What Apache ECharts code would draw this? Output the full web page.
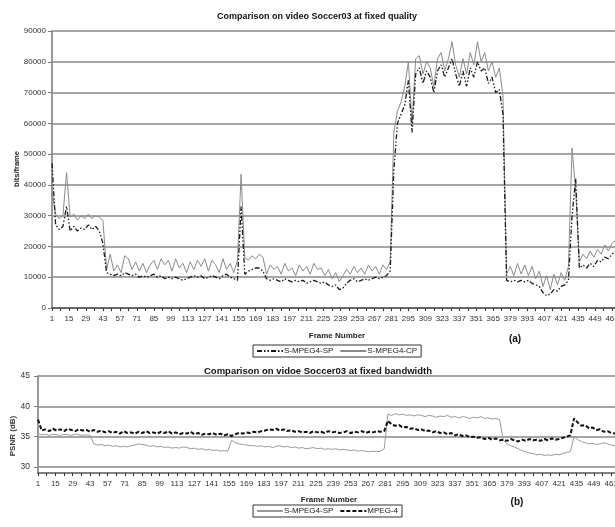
<!DOCTYPE html>
<html>
<head>
<meta charset="utf-8">
<title>Soccer03 comparison</title>
<script src="https://cdn.jsdelivr.net/npm/echarts@6/dist/echarts.min.js"></script>
<style>
  html, body { margin: 0; padding: 0; background: #fff; }
  #chart { width: 615px; height: 527px; }
</style>
</head>
<body>
<div id="chart"></div>
<script>
// values, one sample every 3rd frame (1, 4, 7 ... 466)
const frames = [];
for (let f = 1; f <= 466; f += 3) frames.push(f);

// (a) bits per frame, fixed quality
const bitsSP = [
  47000, 27000, 25500, 26500, 33000, 25000, 26500, 25000, 26000, 25500, 27000, 25500, 26500, 25000, 21000,
  11500, 11000, 10500, 11000, 10500, 11500, 11000, 10500, 11000, 10000, 10500, 10000, 10500, 11000, 10000, 10500, 9500, 10000, 9500, 10000,
  9500, 9000, 9500, 10000, 10500, 10000, 10500, 9500, 10000, 10500, 10000, 9500, 10500, 11000, 10000, 9500, 9000, 33000,
  11000, 12000, 12500, 13000, 13000, 12000,
  9500, 9000, 9500, 9000, 8500, 9500, 9000, 8500, 9000, 8500, 9000, 8000, 8500, 9000, 8500, 8000, 8500, 7500, 7000, 7500,
  6000, 6500, 8000, 9000, 9500, 8500, 9000, 9500, 9000, 9500, 10000, 9500, 10000, 10500, 12000,
  45000, 60000, 63000, 66000, 74000, 57000, 76000, 78000, 73000, 77000, 75000, 70000, 77000, 79000, 75000, 78000,
  81000, 76000, 72000, 77000, 72000, 78000, 75000, 80000, 77000, 78000, 73000, 75000, 70000, 71000, 63000,
  9000, 8500, 9000, 8500, 9000, 8500, 9000, 8000, 7500, 7000, 5000, 4000, 4500, 6000, 5500, 7000, 7500, 9000,
  30000, 42000, 13000,
  14000, 13000, 14500, 13500, 15500, 15000, 16500, 16000, 17500, 18500
];
const bitsCP = [
  38000, 30500, 29000, 30000, 44000, 29500, 30500, 28500, 30000, 29000, 30500, 29000, 30000, 29500, 28500,
  12500, 17500, 12000, 14000, 11500, 17000, 16000, 12500, 15000, 12000, 14500, 11500, 14000, 15500, 12500, 16000, 14000, 15500, 12000, 16000,
  13000, 14500, 11500, 15000, 12500, 15500, 13500, 16000, 12000, 15500, 14000, 11500, 16000, 12500, 14500, 11500, 15500, 43500,
  16500, 15500, 17000, 16000, 17500, 16500,
  11000, 14000, 12500, 13500, 11000, 14500, 12000, 13000, 10500, 14000, 12000, 13500, 11000, 14500, 12500, 13000, 10500, 12500, 9500, 11500,
  8500, 10500, 12500, 11000, 13500, 11500, 13000, 11000, 14000, 12000, 13500, 11000, 14000, 12500, 15000,
  57000, 64000, 67000, 72000, 80000, 60000, 81000, 82000, 76000, 80000, 78000, 72000, 81000, 83000, 77000, 81000,
  86500, 79000, 75000, 81000, 76000, 83000, 79000, 86500, 80000, 83000, 77000, 80000, 75000, 78000, 69000,
  11000, 13500, 10500, 14500, 11000, 14000, 10500, 13500, 9500, 12000, 7000, 10500, 6000, 11000, 7500, 11500, 9000, 13500,
  52000, 38000, 15000,
  17500, 16000, 18500, 16500, 19000, 17500, 20500, 18500, 21000, 22000
];
const bitsTicks = [0, 10000, 20000, 30000, 40000, 50000, 60000, 70000, 80000, 90000];

// (b) PSNR, fixed bandwidth
const psnrSP = [
  35.5, 35.3, 35.4, 35.2, 35.4, 35.3, 35.2, 35.4, 35.3, 35.2, 35.4, 35.3, 35.2, 35.3, 35.2,
  33.8, 33.6, 33.7, 33.5, 33.6, 33.4, 33.5, 33.3, 33.4, 33.3, 33.5, 33.6, 33.8, 33.7, 33.6, 33.4, 33.5, 33.3, 33.4, 33.2,
  33.3, 33.1, 33.2, 33.1, 33.3, 33.2, 33.0, 33.1, 32.9, 33.0, 32.8, 32.9, 32.7, 32.8, 32.6, 32.7, 32.6, 34.4,
  34.0, 33.8, 33.7, 33.6, 33.5, 33.5,
  33.4, 33.5, 33.3, 33.4, 33.2, 33.4, 33.5, 33.3, 33.4, 33.2, 33.3, 33.1, 33.2, 33.0, 33.1, 33.2, 33.0, 33.1, 32.9, 33.0,
  32.9, 33.0, 32.8, 32.9, 32.8, 32.7, 32.8, 32.6, 32.7, 32.6, 32.5, 32.6, 32.5, 32.6, 33.0,
  38.7, 38.5, 38.8, 38.6, 38.7, 38.5, 38.6, 38.4, 38.6, 38.5, 38.3, 38.5, 38.4, 38.2, 38.4, 38.3,
  38.5, 38.2, 38.3, 38.1, 38.3, 38.2, 38.0, 38.2, 38.1, 38.3, 38.0, 38.1, 37.9, 38.0, 37.8,
  34.4, 33.8, 33.5, 33.3, 33.0, 32.7, 32.5, 32.3, 32.2, 32.0, 32.1, 31.9, 32.0, 31.9, 32.1, 32.0, 32.2, 32.4,
  32.5, 35.0, 34.5,
  34.2, 34.0, 33.8, 33.9, 33.7, 33.8, 34.0, 33.8, 33.6, 33.5
];
const psnrMPEG4 = [
  37.8, 36.0, 36.2, 35.9, 36.3, 36.0, 36.2, 35.9, 36.3, 36.1, 35.9, 36.2, 36.0, 36.1, 35.8,
  36.1, 35.8, 36.0, 35.7, 35.9, 35.6, 35.8, 35.5, 35.9, 35.6, 35.7, 35.5, 35.8, 35.6, 35.9, 35.6, 35.7, 35.5, 35.8, 35.6,
  35.9, 35.5, 35.7, 35.4, 35.6, 35.5, 35.8, 35.4, 35.6, 35.3, 35.5, 35.4, 35.6, 35.3, 35.5, 35.2, 35.4, 35.1,
  35.4, 35.6, 35.5, 35.7, 35.6, 35.8,
  35.7, 35.9, 36.0, 36.2, 36.1, 36.3, 36.0, 36.2, 35.9, 36.1, 35.8, 35.9, 35.7, 35.8, 35.6, 35.9, 35.7, 35.8, 35.6, 35.9,
  35.7, 35.8, 35.6, 35.7, 35.9, 35.6, 35.8, 35.7, 35.9, 35.6, 35.8, 35.7, 35.9, 35.8, 35.9,
  37.6, 37.0, 36.8, 36.9, 36.5, 36.6, 36.3, 36.4, 36.1, 36.2, 35.9, 36.0, 35.7, 35.9, 35.6, 35.7,
  35.4, 35.6, 35.2, 35.4, 35.1, 35.2, 34.9, 35.0, 34.8, 34.9, 34.6, 34.8, 34.5, 34.7, 34.4,
  34.5, 34.3, 34.6, 34.4, 34.2, 34.5, 34.3, 34.6, 34.4, 34.5, 34.3, 34.6, 34.4, 34.7, 34.5, 34.6, 34.8, 35.0,
  35.2, 38.0, 37.3,
  36.8, 36.9, 36.4, 36.5, 36.1, 36.2, 35.8, 35.9, 35.6, 35.5
];
const psnrTicks = [30, 35, 40, 45];

// x is stored as frame-1 so ticks every 14 start at 0 and read 1, 15, 29 ...
const toPairs = (vals) => vals.map((v, i) => [frames[i] - 1, v]);

const chart = echarts.init(document.getElementById("chart"));

const labelFont = { color: "#333", fontSize: 8, fontFamily: "Liberation Sans" };
const gridLine = { show: true, lineStyle: { color: "#a6a6a6", width: 2 } };

const xAxisBase = {
  type: "value",
  min: 0,
  max: 490,
  interval: 14,
  axisLine: { onZero: false, lineStyle: { color: "#555", width: 1.5 } },
  axisTick: { show: true, length: 3, lineStyle: { color: "#333" } },
  minorTick: { show: true, splitNumber: 2, length: 3, lineStyle: { color: "#333" } },
  axisLabel: {
    ...labelFont,
    margin: 7,
    formatter: (v) => String(v + 1),
  },
  splitLine: { show: false },
};

const legendBase = {
  itemWidth: 26,
  itemHeight: 8,
  itemGap: 6,
  padding: [2, 4, 2, 3],
  borderColor: "#333",
  borderWidth: 1,
  borderRadius: 0,
  itemStyle: { opacity: 0 },
  textStyle: { ...labelFont, color: "#222", padding: [0, 0, 0, -4] },
};

const option = {
  backgroundColor: "#fff",
  animation: false,
  title: [
    {
      text: "Comparison on video Soccer03 at fixed quality",
      left: 312,
      top: 7,
      textAlign: "center",
      textStyle: { fontSize: 9, fontWeight: "bold", color: "#111", fontFamily: "Liberation Sans" },
    },
    {
      text: "Comparison on vidoe Soccer03 at fixed bandwidth",
      left: 313,
      top: 361,
      textAlign: "center",
      textStyle: { fontSize: 9.5, fontWeight: "bold", color: "#111", fontFamily: "Liberation Sans" },
    },
  ],
  legend: [
    { ...legendBase, data: ["S-MPEG4-SP", "S-MPEG4-CP"], left: 253, top: 345 },
    {
      ...legendBase,
      data: ["S-MPEG4-SP (b)", "MPEG-4"],
      formatter: (name) => name.replace(" (b)", ""),
      left: 253,
      top: 505,
    },
  ],
  grid: [
    { left: 52, top: 31, width: 594, height: 277, containLabel: false, outerBoundsMode: "none" },
    { left: 38, top: 376, width: 608, height: 97, containLabel: false, outerBoundsMode: "none" },
  ],
  xAxis: [
    { ...xAxisBase, gridIndex: 0 },
    { ...xAxisBase, gridIndex: 1 },
  ],
  yAxis: [
    {
      type: "value",
      gridIndex: 0,
      min: bitsTicks[0],
      max: bitsTicks[bitsTicks.length - 1],
      interval: 10000,
      axisLine: { show: true, lineStyle: { color: "#999", width: 2 } },
      axisTick: { show: true, length: 4, lineStyle: { color: "#777" } },
      axisLabel: { ...labelFont, margin: 6, formatter: (v) => String(v) },
      splitLine: gridLine,
    },
    {
      type: "value",
      gridIndex: 1,
      min: 29,
      max: 45,
      axisLine: { show: true, lineStyle: { color: "#999", width: 2 } },
      axisTick: { show: true, length: 4, customValues: psnrTicks, lineStyle: { color: "#777" } },
      axisLabel: { ...labelFont, fontSize: 8.5, margin: 8, customValues: psnrTicks },
      splitLine: gridLine,
    },
  ],
  graphic: [
    { type: "text", x: 17, y: 169, rotation: Math.PI / 2,
      style: { text: "bits/frame", font: "bold 7.5px Liberation Sans", fill: "#222", textAlign: "center", textVerticalAlign: "middle" } },
    { type: "text", x: 13, y: 436, rotation: Math.PI / 2,
      style: { text: "PSNR (dB)", font: "bold 8px Liberation Sans", fill: "#333", textAlign: "center", textVerticalAlign: "middle" } },
    { type: "text", x: 337, y: 336,
      style: { text: "Frame Number", font: "bold 8px Liberation Sans Narrow, Liberation Sans", fill: "#222", textAlign: "center", textVerticalAlign: "middle" } },
    { type: "text", x: 329, y: 500,
      style: { text: "Frame Number", font: "bold 8px Liberation Sans Narrow, Liberation Sans", fill: "#222", textAlign: "center", textVerticalAlign: "middle" } },
    { type: "text", x: 515, y: 339,
      style: { text: "(a)", font: "bold 10px Liberation Sans", fill: "#111", textAlign: "center", textVerticalAlign: "middle" } },
    { type: "text", x: 517, y: 502,
      style: { text: "(b)", font: "bold 10px Liberation Sans", fill: "#111", textAlign: "center", textVerticalAlign: "middle" } },
  ],
  series: [
    {
      name: "S-MPEG4-CP",
      type: "line",
      xAxisIndex: 0,
      yAxisIndex: 0,
      data: toPairs(bitsCP),
      symbol: "none",
      lineStyle: { color: "#8a8a8a", width: 1 },
      itemStyle: { color: "#8a8a8a" },
    },
    {
      name: "S-MPEG4-SP",
      type: "line",
      xAxisIndex: 0,
      yAxisIndex: 0,
      data: toPairs(bitsSP),
      symbol: "none",
      lineStyle: { color: "#1a1a1a", width: 1.3, type: [5, 2, 1.5, 2, 1.5, 2] },
      itemStyle: { color: "#1a1a1a" },
    },
    {
      name: "S-MPEG4-SP (b)",
      type: "line",
      xAxisIndex: 1,
      yAxisIndex: 1,
      data: toPairs(psnrSP),
      symbol: "none",
      lineStyle: { color: "#9a9a9a", width: 1 },
      itemStyle: { color: "#9a9a9a" },
    },
    {
      name: "MPEG-4",
      type: "line",
      xAxisIndex: 1,
      yAxisIndex: 1,
      data: toPairs(psnrMPEG4),
      symbol: "none",
      lineStyle: { color: "#111", width: 2, type: [4, 2] },
      itemStyle: { color: "#111" },
    },
  ],
};

chart.setOption(option);
window.addEventListener("resize", () => chart.resize());
</script>
</body>
</html>
